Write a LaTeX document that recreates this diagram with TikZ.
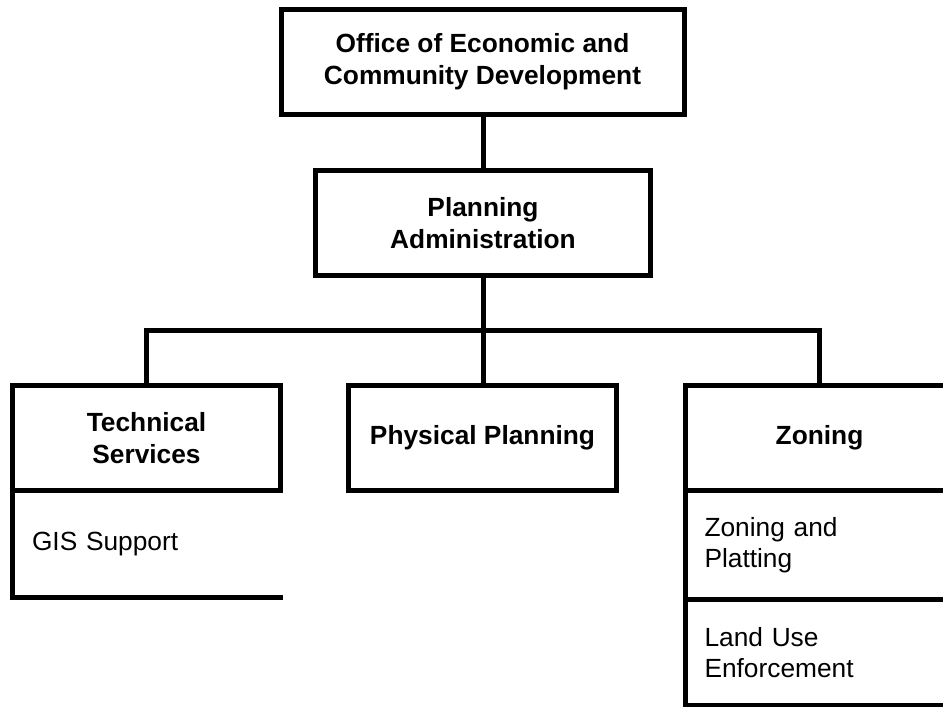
\documentclass[tikz,border=0pt]{standalone}
\usepackage{fontspec}
\setmainfont{Liberation Sans}
\begin{document}
\begin{tikzpicture}[x=1pt,y=-1pt,line width=5pt,line join=miter,
  box/.style={draw,line width=5pt,outer sep=0pt,inner sep=0pt,minimum height=105.5pt,
    align=center,font=\fontsize{26.3}{32}\selectfont\bfseries},
  subbox/.style={line width=5pt,outer sep=0pt,inner xsep=19.5pt,inner ysep=0pt,
    text width=230pt,align=left,anchor=north west,font=\fontsize{26.3}{31}\selectfont}]
\useasboundingbox (0,0) rectangle (943,707);
\clip (0,0) rectangle (943,707);
\node[box,minimum width=403pt] (ocd) at (482.5,61.75) {Office of Economic and\\Community Development};
\node[box,minimum width=335.5pt] (adm) at (483,222.75) {Planning\\Administration};
\node[box,minimum width=268pt] (tech) at (146.5,437.75) {Technical\\Services};
\node[box,minimum width=268pt] (phys) at (482.5,437.75) {Physical Planning};
\node[box,minimum width=269pt] (zone) at (819.5,437.75) {Zoning};
% sub units
\node[subbox,minimum height=107pt] (gis) at (tech.south west) {GIS Support};
\draw (gis.north west) -- (gis.south west) -- ([xshift=1.5pt]gis.south east);
\node[subbox,draw,minimum height=108.5pt] (zp) at (zone.south west) {Zoning and\\Platting};
\node[subbox,draw,minimum height=106.5pt] (lu) at (zp.south west) {Land Use\\Enforcement};
% connectors
\draw (adm.north) -- (adm.north |- ocd.south);
\draw (adm.south) -- ++(0,54.5) coordinate (bus);
\draw (tech.north) |- (bus) -| (zone.north);
\draw (bus) -- (bus |- phys.north);
\end{tikzpicture}
\end{document}
